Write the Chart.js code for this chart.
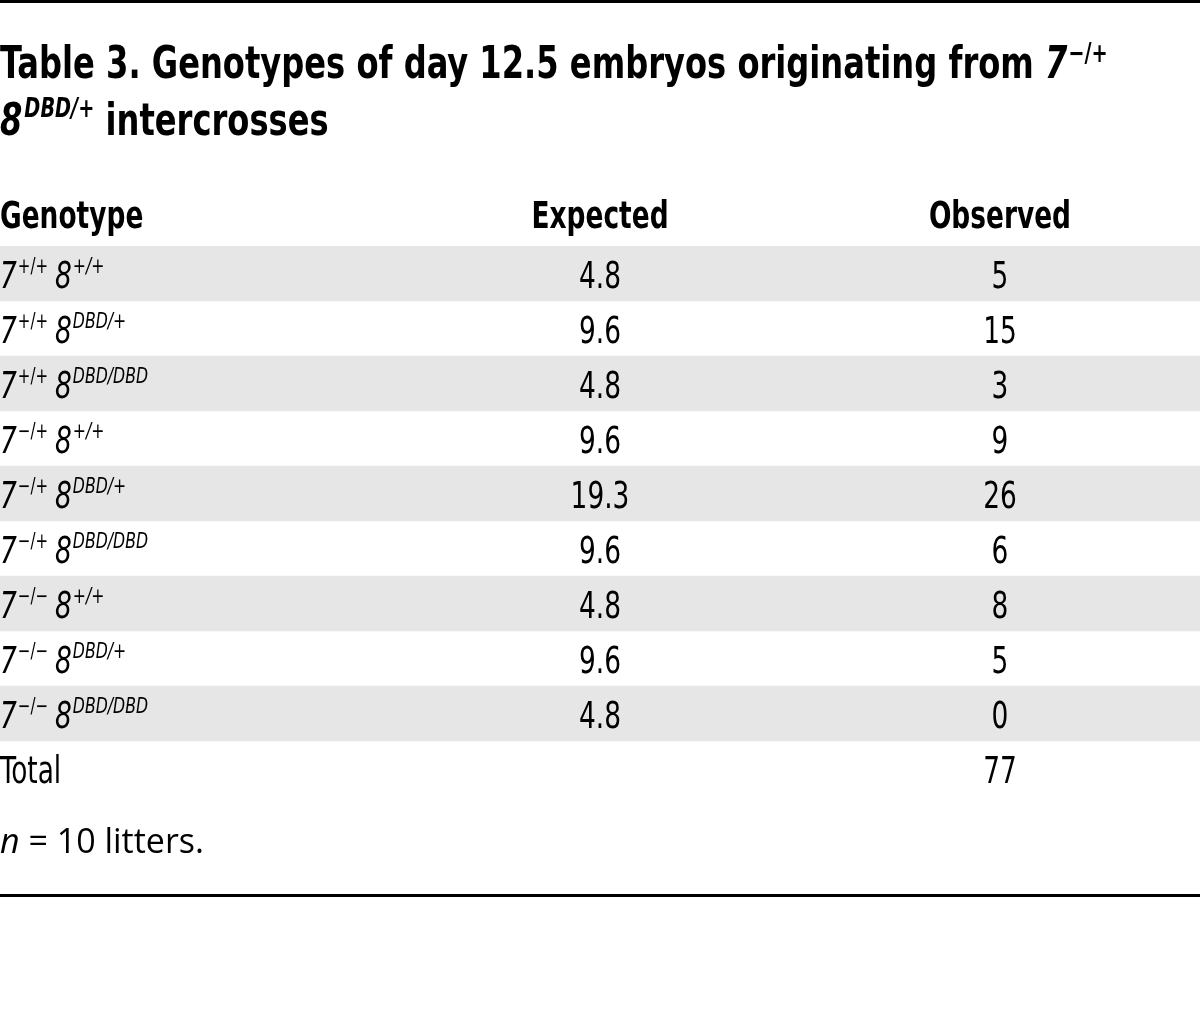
<!DOCTYPE html>
<html>
<head>
<meta charset="utf-8">
<script src="https://cdn.jsdelivr.net/npm/chart.js@4.4.1/dist/chart.umd.min.js"></script>
<style>
  html, body { margin: 0; padding: 0; background: #fff; }
  #wrap { width: 1200px; height: 1012px; position: relative; }
</style>
</head>
<body>
<div id="wrap"><canvas id="tablechart"></canvas></div>
<script>
// table data
var geneA = ['+/+', '+/+', '+/+', '\u2212/+', '\u2212/+', '\u2212/+', '\u2212/\u2212', '\u2212/\u2212', '\u2212/\u2212'];
var geneB = ['+/+', 'DBD/+', 'DBD/DBD', '+/+', 'DBD/+', 'DBD/DBD', '+/+', 'DBD/+', 'DBD/DBD'];
var expected = [4.8, 9.6, 4.8, 9.6, 19.3, 9.6, 4.8, 9.6, 4.8];
var observed = [5, 15, 3, 9, 26, 6, 8, 5, 0];
var totalObserved = 77;
var headers = ['Genotype', 'Expected', 'Observed'];
var titleText = 'Table 3. Genotypes of day 12.5 embryos originating from ';
var footText = ' = 10 litters.';

var rowKeys = geneA.map(function (a, i) { return '7' + a + ' 8' + geneB[i]; }).concat(['Total']);
var stripes = rowKeys.map(function (k, i) { return (i % 2 === 0 && i < geneA.length) ? [0, 1] : null; });

var FAM = '"Liberation Sans Narrow", "DejaVu Sans Condensed", "Roboto Condensed", "Arial Narrow", sans-serif';
var squeeze = 1;

function font(style, weight, size) {
    return style + ' ' + weight + ' ' + size + 'px ' + FAM;
}

// draws a run of text squeezed horizontally, returns the new x
function put(ctx, txt, x, y, f) {
    ctx.font = f;
    ctx.save();
    ctx.translate(x, y);
    ctx.scale(squeeze, 1);
    ctx.fillText(txt, 0, 0);
    ctx.restore();
    return x + ctx.measureText(txt).width * squeeze;
}

function width(ctx, txt, f) {
    ctx.font = f;
    return ctx.measureText(txt).width * squeeze;
}

function genotype(ctx, i, x, y) {
    x = put(ctx, '7', x, y, font('italic', 'normal', 37));
    x = put(ctx, geneA[i], x + 1, y - 15, font('normal', 'normal', 21));
    x = put(ctx, '8', x + 7, y, font('italic', 'normal', 37));
    put(ctx, geneB[i], x + 1, y - 15, font('italic', 'normal', 22));
}

var tablePlugin = {
    id: 'tablePlugin',
    afterDatasetsDraw: function (chart) {
        var ctx = chart.ctx;
        var xs = chart.scales.x;
        var ys = chart.scales.y;
        var colExp = xs.getPixelForValue(0.5);
        var colObs = xs.getPixelForValue(0.8333);
        ctx.save();
        ctx.fillStyle = '#000';
        ctx.textAlign = 'left';
        ctx.textBaseline = 'alphabetic';

        // work out horizontal squeeze from the title width
        squeeze = 1;
        ctx.font = font('normal', 'bold', 45);
        squeeze = 1045 / ctx.measureText(titleText).width;

        // rules
        ctx.fillRect(0, 0, chart.width, 3);
        ctx.fillRect(0, 894, chart.width, 3);

        // title
        var x = put(ctx, titleText, 0, 78, font('normal', 'bold', 45));
        x = put(ctx, '7', x, 78, font('italic', 'bold', 45));
        put(ctx, '\u2212/+', x + 1, 62, font('normal', 'bold', 27));
        x = put(ctx, '8', 0, 135, font('italic', 'bold', 45));
        x = put(ctx, 'DBD/+', x + 2, 117, font('italic', 'bold', 27));
        put(ctx, ' intercrosses', x, 135, font('normal', 'bold', 45));

        // header
        var hb = ys.getPixelForValue(0) - 46;
        var hf = font('normal', 'bold', 37);
        put(ctx, headers[0], 0, hb, hf);
        put(ctx, headers[1], colExp - width(ctx, headers[1], hf) / 2, hb, hf);
        put(ctx, headers[2], colObs - width(ctx, headers[2], hf) / 2, hb, hf);

        // body rows
        var bf = font('normal', 'normal', 37);
        rowKeys.forEach(function (k, i) {
            var y = ys.getPixelForValue(i) + 14;
            var e = '', o;
            if (i < geneA.length) {
                genotype(ctx, i, 0, y);
                e = expected[i].toFixed(1);
                o = String(observed[i]);
            } else {
                put(ctx, k, 0, y, bf);
                o = String(totalObserved);
            }
            if (e) put(ctx, e, colExp - width(ctx, e, bf) / 2, y, bf);
            put(ctx, o, colObs - width(ctx, o, bf) / 2, y, bf);
        });

        // footnote, regular width
        squeeze = 1;
        ctx.font = 'italic 34px "Open Sans", sans-serif';
        ctx.fillText('n', 0, 853);
        var nw = ctx.measureText('n').width;
        ctx.font = '34px "Open Sans", sans-serif';
        ctx.fillText(footText, nw, 853);
        ctx.restore();
    }
};

var myChart = new Chart(document.getElementById('tablechart'), {
    type: 'bar',
    data: {
        labels: rowKeys,
        datasets: [{
            data: stripes,
            backgroundColor: '#e6e6e6',
            borderWidth: 0,
            barPercentage: 1,
            categoryPercentage: 1,
        }]
    },
    options: {
        indexAxis: 'y',
        responsive: true,
        maintainAspectRatio: false,
        animation: false,
        layout: {
            padding: { top: 246, bottom: 216, left: 0, right: 0 },
        },
        scales: {
            x: { display: false, min: 0, max: 1 },
            y: { display: false },
        },
        plugins: {
            legend: { display: false },
            tooltip: { enabled: false },
        },
    },
    plugins: [tablePlugin]
});
</script>
</body>
</html>
